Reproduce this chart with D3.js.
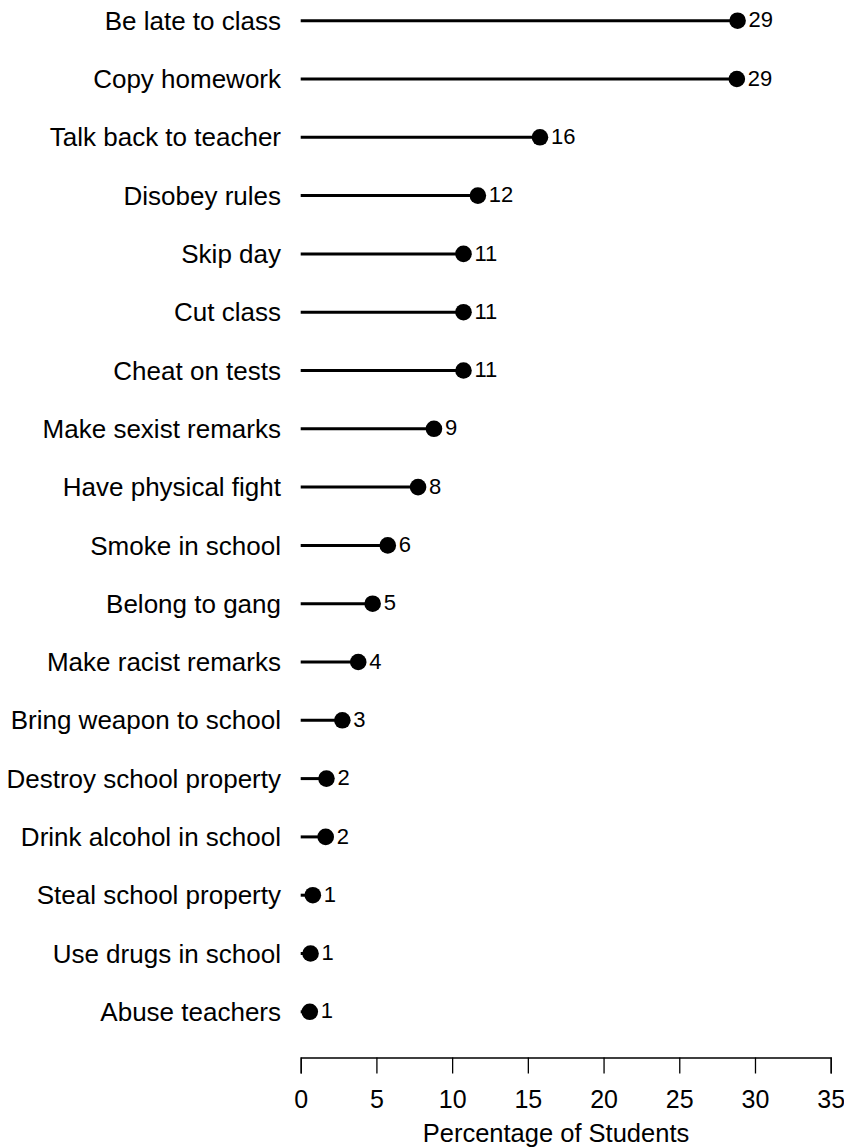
<!DOCTYPE html>
<html lang="en">
<head>
    <meta charset="UTF-8">
    <title>Student Misbehaviour Lollipop</title>
    <script src="https://cdnjs.cloudflare.com/ajax/libs/d3/7.8.5/d3.min.js"></script>
    <style>
        body { margin: 0; background: #fff; }
        svg { display: block; }
        text { font-family: "Liberation Sans", Arial, sans-serif; fill: #000; }
        .cat { font-size: 26px; }
        .val { font-size: 22px; }
        .axis-title { font-size: 25.5px; }
        .stem { stroke: #000; stroke-width: 3px; }
        .dot { fill: #000; }
    </style>
</head>
<body>
    <svg width="844" height="1148"></svg>
    <script>
        // behaviours, top to bottom
        const categories = [
            "Be late to class", "Copy homework", "Talk back to teacher", "Disobey rules",
            "Skip day", "Cut class", "Cheat on tests", "Make sexist remarks",
            "Have physical fight", "Smoke in school", "Belong to gang", "Make racist remarks",
            "Bring weapon to school", "Destroy school property", "Drink alcohol in school",
            "Steal school property", "Use drugs in school", "Abuse teachers"
        ];
        // percentage of students
        const values = [
            28.85, 28.8, 15.8, 11.7, 10.75, 10.75, 10.75, 8.8,
            7.75, 5.75, 4.75, 3.8, 2.75, 1.7, 1.65, 0.8, 0.65, 0.6
        ];
        const xTicks = [0, 5, 10, 15, 20, 25, 30, 35];

        const data = categories.map((c, i) => ({ name: c, value: values[i] }));

        const svg = d3.select("svg");

        const x = d3.scaleLinear().domain([0, 35]).range([300.7, 830.7]);
        const y = d3.scalePoint().domain(categories).range([20.7, 1011.8]);

        // stems
        svg.selectAll(".stem")
            .data(data)
            .enter().append("line")
            .attr("class", "stem")
            .attr("x1", x(0))
            .attr("x2", d => x(d.value))
            .attr("y1", d => y(d.name))
            .attr("y2", d => y(d.name));

        // dots
        svg.selectAll(".dot")
            .data(data)
            .enter().append("circle")
            .attr("class", "dot")
            .attr("cx", d => x(d.value))
            .attr("cy", d => y(d.name))
            .attr("r", 8.3);

        // value labels
        svg.selectAll(".val")
            .data(data)
            .enter().append("text")
            .attr("class", "val")
            .attr("x", d => x(d.value) + 11)
            .attr("y", d => y(d.name))
            .attr("dy", "0.3em")
            .text(d => Math.round(d.value));

        // category labels
        svg.selectAll(".cat")
            .data(data)
            .enter().append("text")
            .attr("class", "cat")
            .attr("x", 281)
            .attr("y", d => y(d.name))
            .attr("dy", "0.35em")
            .attr("text-anchor", "end")
            .text(d => d.name);

        // x axis
        const axis = svg.append("g")
            .attr("transform", "translate(0,1057.5)")
            .call(d3.axisBottom(x).tickValues(xTicks).tickSize(16).tickPadding(17).tickFormat(d3.format("d")));
        axis.attr("font-family", null).attr("font-size", null);
        axis.select(".domain").attr("stroke", "#000").attr("stroke-width", 1.3);
        axis.selectAll(".tick line").attr("stroke", "#000").attr("stroke-width", 1.3);
        axis.selectAll(".tick text")
            .attr("fill", "#000")
            .style("font-size", "25px");

        svg.append("text")
            .attr("class", "axis-title")
            .attr("x", 556)
            .attr("y", 1142)
            .attr("text-anchor", "middle")
            .text("Percentage of Students");
    </script>
</body>
</html>
